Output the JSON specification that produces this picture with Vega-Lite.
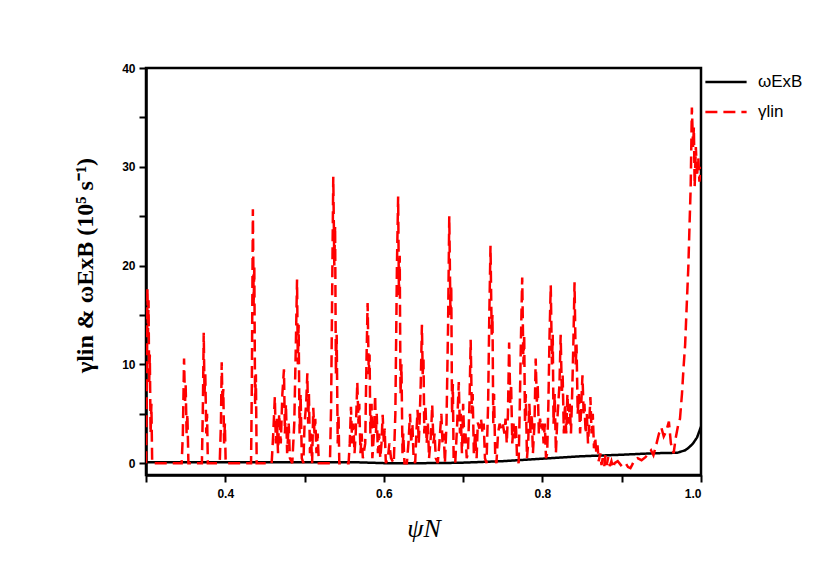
{
  "$schema": "https://vega.github.io/schema/vega-lite/v6.json",
  "width": 555,
  "height": 407,
  "autosize": {"type": "none"},
  "padding": {"left": 146, "top": 68, "right": 126, "bottom": 94},
  "background": "white",
  "config": {
    "view": {"stroke": "black", "strokeWidth": 2.5},
    "axis": {
      "domainColor": "black", "domainWidth": 2.5, "tickColor": "black", "tickWidth": 2,
      "tickSize": 7, "grid": false, "labelFont": "Liberation Sans", "labelFontWeight": "bold",
      "labelFontSize": 12, "labelColor": "black", "titleColor": "black"
    },
    "legend": {
      "orient": "none", "legendX": 558, "legendY": -8, "padding": 0, "title": null,
      "symbolType": "stroke", "symbolSize": 1700, "symbolStrokeWidth": 2.5,
      "labelFont": "Liberation Sans", "labelFontSize": 17, "labelColor": "black",
      "rowPadding": -16, "labelOffset": 10
    }
  },
  "datasets": {
    "exb": [
      {"psi": 0.30, "val": 0.1, "series": "ωExB"},
      {"psi": 0.40, "val": 0.1, "series": "ωExB"},
      {"psi": 0.50, "val": 0.1, "series": "ωExB"},
      {"psi": 0.56, "val": 0.1, "series": "ωExB"},
      {"psi": 0.60, "val": 0.0, "series": "ωExB"},
      {"psi": 0.65, "val": 0.0, "series": "ωExB"},
      {"psi": 0.68, "val": 0.02, "series": "ωExB"},
      {"psi": 0.70, "val": 0.05, "series": "ωExB"},
      {"psi": 0.75, "val": 0.2, "series": "ωExB"},
      {"psi": 0.80, "val": 0.45, "series": "ωExB"},
      {"psi": 0.85, "val": 0.7, "series": "ωExB"},
      {"psi": 0.90, "val": 0.85, "series": "ωExB"},
      {"psi": 0.94, "val": 1.0, "series": "ωExB"},
      {"psi": 0.97, "val": 1.05, "series": "ωExB"},
      {"psi": 0.98, "val": 1.3, "series": "ωExB"},
      {"psi": 0.985, "val": 1.6, "series": "ωExB"},
      {"psi": 0.99, "val": 2.0, "series": "ωExB"},
      {"psi": 0.995, "val": 2.6, "series": "ωExB"},
      {"psi": 1.00, "val": 3.7, "series": "ωExB"}
    ],
    "lin": [
      {"psi": 0.300, "val": 0, "series": "γlin"},
      {"psi": 0.3012, "val": 9, "series": "γlin"},
      {"psi": 0.3018, "val": 17.7, "series": "γlin"},
      {"psi": 0.3025, "val": 13, "series": "γlin"},
      {"psi": 0.3032, "val": 16.5, "series": "γlin"},
      {"psi": 0.3040, "val": 8, "series": "γlin"},
      {"psi": 0.3048, "val": 11, "series": "γlin"},
      {"psi": 0.3058, "val": 3, "series": "γlin"},
      {"psi": 0.3068, "val": 6, "series": "γlin"},
      {"psi": 0.3078, "val": 0, "series": "γlin"},
      {"psi": 0.345, "val": 0, "series": "γlin"},
      {"psi": 0.3465, "val": 3, "series": "γlin"},
      {"psi": 0.348, "val": 10.6, "series": "γlin"},
      {"psi": 0.3492, "val": 6, "series": "γlin"},
      {"psi": 0.350, "val": 8, "series": "γlin"},
      {"psi": 0.3512, "val": 3, "series": "γlin"},
      {"psi": 0.3522, "val": 5, "series": "γlin"},
      {"psi": 0.3535, "val": 0, "series": "γlin"},
      {"psi": 0.3705, "val": 0, "series": "γlin"},
      {"psi": 0.3718, "val": 6, "series": "γlin"},
      {"psi": 0.3728, "val": 13.2, "series": "γlin"},
      {"psi": 0.3738, "val": 7, "series": "γlin"},
      {"psi": 0.3748, "val": 9, "series": "γlin"},
      {"psi": 0.376, "val": 3, "series": "γlin"},
      {"psi": 0.377, "val": 5, "series": "γlin"},
      {"psi": 0.378, "val": 0, "series": "γlin"},
      {"psi": 0.393, "val": 0, "series": "γlin"},
      {"psi": 0.3945, "val": 4, "series": "γlin"},
      {"psi": 0.3955, "val": 10.2, "series": "γlin"},
      {"psi": 0.3965, "val": 6, "series": "γlin"},
      {"psi": 0.3975, "val": 7.5, "series": "γlin"},
      {"psi": 0.3985, "val": 2, "series": "γlin"},
      {"psi": 0.3995, "val": 4, "series": "γlin"},
      {"psi": 0.4005, "val": 0, "series": "γlin"},
      {"psi": 0.4325, "val": 0, "series": "γlin"},
      {"psi": 0.4335, "val": 8, "series": "γlin"},
      {"psi": 0.4348, "val": 25.7, "series": "γlin"},
      {"psi": 0.4358, "val": 16, "series": "γlin"},
      {"psi": 0.4366, "val": 20, "series": "γlin"},
      {"psi": 0.4376, "val": 6, "series": "γlin"},
      {"psi": 0.4386, "val": 9, "series": "γlin"},
      {"psi": 0.4396, "val": 0, "series": "γlin"},
      {"psi": 0.4585, "val": 0, "series": "γlin"},
      {"psi": 0.4605, "val": 3, "series": "γlin"},
      {"psi": 0.4625, "val": 6.7, "series": "γlin"},
      {"psi": 0.4638, "val": 2, "series": "γlin"},
      {"psi": 0.4650, "val": 4.5, "series": "γlin"},
      {"psi": 0.4665, "val": 1, "series": "γlin"},
      {"psi": 0.4680, "val": 5, "series": "γlin"},
      {"psi": 0.4700, "val": 2, "series": "γlin"},
      {"psi": 0.4720, "val": 7, "series": "γlin"},
      {"psi": 0.4740, "val": 9.5, "series": "γlin"},
      {"psi": 0.4752, "val": 3, "series": "γlin"},
      {"psi": 0.4765, "val": 6, "series": "γlin"},
      {"psi": 0.4780, "val": 1, "series": "γlin"},
      {"psi": 0.4800, "val": 4, "series": "γlin"},
      {"psi": 0.4815, "val": 0.5, "series": "γlin"},
      {"psi": 0.4845, "val": 0, "series": "γlin"},
      {"psi": 0.4870, "val": 4, "series": "γlin"},
      {"psi": 0.4890, "val": 12, "series": "γlin"},
      {"psi": 0.4905, "val": 18.6, "series": "γlin"},
      {"psi": 0.4915, "val": 10, "series": "γlin"},
      {"psi": 0.4925, "val": 14, "series": "γlin"},
      {"psi": 0.4937, "val": 3, "series": "γlin"},
      {"psi": 0.4950, "val": 7, "series": "γlin"},
      {"psi": 0.4965, "val": 0.5, "series": "γlin"},
      {"psi": 0.4985, "val": 0, "series": "γlin"},
      {"psi": 0.5000, "val": 4, "series": "γlin"},
      {"psi": 0.5020, "val": 6, "series": "γlin"},
      {"psi": 0.5035, "val": 9.1, "series": "γlin"},
      {"psi": 0.5045, "val": 4, "series": "γlin"},
      {"psi": 0.5055, "val": 7, "series": "γlin"},
      {"psi": 0.5068, "val": 1, "series": "γlin"},
      {"psi": 0.5080, "val": 3, "series": "γlin"},
      {"psi": 0.5095, "val": 0, "series": "γlin"},
      {"psi": 0.5110, "val": 5.6, "series": "γlin"},
      {"psi": 0.5125, "val": 3, "series": "γlin"},
      {"psi": 0.5135, "val": 4.5, "series": "γlin"},
      {"psi": 0.5150, "val": 1, "series": "γlin"},
      {"psi": 0.5165, "val": 3, "series": "γlin"},
      {"psi": 0.5180, "val": 0, "series": "γlin"},
      {"psi": 0.5320, "val": 0, "series": "γlin"},
      {"psi": 0.5335, "val": 6, "series": "γlin"},
      {"psi": 0.5350, "val": 19, "series": "γlin"},
      {"psi": 0.5362, "val": 29, "series": "γlin"},
      {"psi": 0.5375, "val": 20, "series": "γlin"},
      {"psi": 0.5385, "val": 24, "series": "γlin"},
      {"psi": 0.5395, "val": 9, "series": "γlin"},
      {"psi": 0.5405, "val": 13, "series": "γlin"},
      {"psi": 0.5418, "val": 2, "series": "γlin"},
      {"psi": 0.5428, "val": 5, "series": "γlin"},
      {"psi": 0.5438, "val": 0, "series": "γlin"},
      {"psi": 0.5555, "val": 0, "series": "γlin"},
      {"psi": 0.5570, "val": 2, "series": "γlin"},
      {"psi": 0.5585, "val": 5.7, "series": "γlin"},
      {"psi": 0.5600, "val": 2, "series": "γlin"},
      {"psi": 0.5615, "val": 4, "series": "γlin"},
      {"psi": 0.5630, "val": 1, "series": "γlin"},
      {"psi": 0.5645, "val": 3, "series": "γlin"},
      {"psi": 0.5665, "val": 8.2, "series": "γlin"},
      {"psi": 0.5680, "val": 4, "series": "γlin"},
      {"psi": 0.5690, "val": 6, "series": "γlin"},
      {"psi": 0.5705, "val": 1, "series": "γlin"},
      {"psi": 0.5720, "val": 3, "series": "γlin"},
      {"psi": 0.5735, "val": 0.5, "series": "γlin"},
      {"psi": 0.5765, "val": 2, "series": "γlin"},
      {"psi": 0.5780, "val": 10, "series": "γlin"},
      {"psi": 0.5795, "val": 16.2, "series": "γlin"},
      {"psi": 0.5810, "val": 9, "series": "γlin"},
      {"psi": 0.5820, "val": 11, "series": "γlin"},
      {"psi": 0.5830, "val": 3, "series": "γlin"},
      {"psi": 0.5845, "val": 6, "series": "γlin"},
      {"psi": 0.5855, "val": 0.5, "series": "γlin"},
      {"psi": 0.5875, "val": 3, "series": "γlin"},
      {"psi": 0.5890, "val": 6.9, "series": "γlin"},
      {"psi": 0.5900, "val": 3, "series": "γlin"},
      {"psi": 0.5910, "val": 5, "series": "γlin"},
      {"psi": 0.5925, "val": 1, "series": "γlin"},
      {"psi": 0.5940, "val": 3, "series": "γlin"},
      {"psi": 0.5955, "val": 0.5, "series": "γlin"},
      {"psi": 0.5970, "val": 2, "series": "γlin"},
      {"psi": 0.5985, "val": 4.9, "series": "γlin"},
      {"psi": 0.6000, "val": 2, "series": "γlin"},
      {"psi": 0.6010, "val": 3.5, "series": "γlin"},
      {"psi": 0.6025, "val": 0, "series": "γlin"},
      {"psi": 0.6050, "val": 0.5, "series": "γlin"},
      {"psi": 0.6070, "val": 2, "series": "γlin"},
      {"psi": 0.6090, "val": 0.5, "series": "γlin"},
      {"psi": 0.6125, "val": 0, "series": "γlin"},
      {"psi": 0.6145, "val": 5, "series": "γlin"},
      {"psi": 0.6165, "val": 20, "series": "γlin"},
      {"psi": 0.6180, "val": 27, "series": "γlin"},
      {"psi": 0.6190, "val": 17, "series": "γlin"},
      {"psi": 0.6200, "val": 21, "series": "γlin"},
      {"psi": 0.6210, "val": 7, "series": "γlin"},
      {"psi": 0.6222, "val": 10, "series": "γlin"},
      {"psi": 0.6235, "val": 1, "series": "γlin"},
      {"psi": 0.6245, "val": 3, "series": "γlin"},
      {"psi": 0.6260, "val": 0, "series": "γlin"},
      {"psi": 0.6290, "val": 0, "series": "γlin"},
      {"psi": 0.6310, "val": 2, "series": "γlin"},
      {"psi": 0.6330, "val": 5, "series": "γlin"},
      {"psi": 0.6345, "val": 2, "series": "γlin"},
      {"psi": 0.6360, "val": 4, "series": "γlin"},
      {"psi": 0.6375, "val": 0.5, "series": "γlin"},
      {"psi": 0.6395, "val": 0, "series": "γlin"},
      {"psi": 0.6410, "val": 3, "series": "γlin"},
      {"psi": 0.6425, "val": 5.4, "series": "γlin"},
      {"psi": 0.6440, "val": 2, "series": "γlin"},
      {"psi": 0.6450, "val": 4, "series": "γlin"},
      {"psi": 0.6465, "val": 8, "series": "γlin"},
      {"psi": 0.6480, "val": 14, "series": "γlin"},
      {"psi": 0.6490, "val": 9, "series": "γlin"},
      {"psi": 0.6500, "val": 10.5, "series": "γlin"},
      {"psi": 0.6510, "val": 3, "series": "γlin"},
      {"psi": 0.6525, "val": 5.9, "series": "γlin"},
      {"psi": 0.6540, "val": 2, "series": "γlin"},
      {"psi": 0.6555, "val": 4, "series": "γlin"},
      {"psi": 0.6570, "val": 0.5, "series": "γlin"},
      {"psi": 0.6595, "val": 3, "series": "γlin"},
      {"psi": 0.6610, "val": 5.9, "series": "γlin"},
      {"psi": 0.6625, "val": 2, "series": "γlin"},
      {"psi": 0.6640, "val": 3, "series": "γlin"},
      {"psi": 0.6655, "val": 0.5, "series": "γlin"},
      {"psi": 0.6680, "val": 0, "series": "γlin"},
      {"psi": 0.6700, "val": 2, "series": "γlin"},
      {"psi": 0.6725, "val": 5, "series": "γlin"},
      {"psi": 0.6740, "val": 2, "series": "γlin"},
      {"psi": 0.6755, "val": 3, "series": "γlin"},
      {"psi": 0.6770, "val": 0, "series": "γlin"},
      {"psi": 0.6790, "val": 4, "series": "γlin"},
      {"psi": 0.6810, "val": 14, "series": "γlin"},
      {"psi": 0.6825, "val": 25, "series": "γlin"},
      {"psi": 0.6840, "val": 15, "series": "γlin"},
      {"psi": 0.6850, "val": 18, "series": "γlin"},
      {"psi": 0.6860, "val": 5, "series": "γlin"},
      {"psi": 0.6870, "val": 8, "series": "γlin"},
      {"psi": 0.6880, "val": 0.5, "series": "γlin"},
      {"psi": 0.6900, "val": 0, "series": "γlin"},
      {"psi": 0.6925, "val": 4, "series": "γlin"},
      {"psi": 0.6945, "val": 8.2, "series": "γlin"},
      {"psi": 0.6960, "val": 3, "series": "γlin"},
      {"psi": 0.6970, "val": 5, "series": "γlin"},
      {"psi": 0.6985, "val": 1, "series": "γlin"},
      {"psi": 0.7000, "val": 6, "series": "γlin"},
      {"psi": 0.7015, "val": 2, "series": "γlin"},
      {"psi": 0.7030, "val": 3, "series": "γlin"},
      {"psi": 0.7045, "val": 0.5, "series": "γlin"},
      {"psi": 0.7060, "val": 1, "series": "γlin"},
      {"psi": 0.7080, "val": 6, "series": "γlin"},
      {"psi": 0.7095, "val": 12.5, "series": "γlin"},
      {"psi": 0.7110, "val": 5, "series": "γlin"},
      {"psi": 0.7120, "val": 7, "series": "γlin"},
      {"psi": 0.7135, "val": 1, "series": "γlin"},
      {"psi": 0.7150, "val": 3, "series": "γlin"},
      {"psi": 0.7170, "val": 0.5, "series": "γlin"},
      {"psi": 0.7185, "val": 4.1, "series": "γlin"},
      {"psi": 0.7205, "val": 3.5, "series": "γlin"},
      {"psi": 0.7225, "val": 4.5, "series": "γlin"},
      {"psi": 0.7245, "val": 3, "series": "γlin"},
      {"psi": 0.7260, "val": 4, "series": "γlin"},
      {"psi": 0.7275, "val": 0.5, "series": "γlin"},
      {"psi": 0.7295, "val": 0, "series": "γlin"},
      {"psi": 0.7315, "val": 6, "series": "γlin"},
      {"psi": 0.7330, "val": 15, "series": "γlin"},
      {"psi": 0.7345, "val": 22, "series": "γlin"},
      {"psi": 0.7360, "val": 13, "series": "γlin"},
      {"psi": 0.7370, "val": 15, "series": "γlin"},
      {"psi": 0.7380, "val": 4, "series": "γlin"},
      {"psi": 0.7390, "val": 7, "series": "γlin"},
      {"psi": 0.7405, "val": 0.5, "series": "γlin"},
      {"psi": 0.7420, "val": 0, "series": "γlin"},
      {"psi": 0.7440, "val": 3, "series": "γlin"},
      {"psi": 0.7460, "val": 4, "series": "γlin"},
      {"psi": 0.7480, "val": 3.5, "series": "γlin"},
      {"psi": 0.7500, "val": 4, "series": "γlin"},
      {"psi": 0.7520, "val": 3, "series": "γlin"},
      {"psi": 0.7535, "val": 4.5, "series": "γlin"},
      {"psi": 0.7550, "val": 2, "series": "γlin"},
      {"psi": 0.7565, "val": 5, "series": "γlin"},
      {"psi": 0.7580, "val": 12.2, "series": "γlin"},
      {"psi": 0.7595, "val": 6, "series": "γlin"},
      {"psi": 0.7605, "val": 8, "series": "γlin"},
      {"psi": 0.7620, "val": 2, "series": "γlin"},
      {"psi": 0.7635, "val": 4, "series": "γlin"},
      {"psi": 0.7650, "val": 2.5, "series": "γlin"},
      {"psi": 0.7665, "val": 4, "series": "γlin"},
      {"psi": 0.7680, "val": 0.5, "series": "γlin"},
      {"psi": 0.7700, "val": 0, "series": "γlin"},
      {"psi": 0.7715, "val": 6, "series": "γlin"},
      {"psi": 0.7730, "val": 13, "series": "γlin"},
      {"psi": 0.7745, "val": 18.8, "series": "γlin"},
      {"psi": 0.7760, "val": 10, "series": "γlin"},
      {"psi": 0.7770, "val": 13, "series": "γlin"},
      {"psi": 0.7780, "val": 4, "series": "γlin"},
      {"psi": 0.7790, "val": 7, "series": "γlin"},
      {"psi": 0.7805, "val": 0.5, "series": "γlin"},
      {"psi": 0.7820, "val": 2, "series": "γlin"},
      {"psi": 0.7835, "val": 6, "series": "γlin"},
      {"psi": 0.7850, "val": 3, "series": "γlin"},
      {"psi": 0.7865, "val": 5, "series": "γlin"},
      {"psi": 0.7880, "val": 1, "series": "γlin"},
      {"psi": 0.7900, "val": 4, "series": "γlin"},
      {"psi": 0.7915, "val": 10.6, "series": "γlin"},
      {"psi": 0.7930, "val": 6, "series": "γlin"},
      {"psi": 0.7940, "val": 8, "series": "γlin"},
      {"psi": 0.7955, "val": 3, "series": "γlin"},
      {"psi": 0.7970, "val": 4.5, "series": "γlin"},
      {"psi": 0.7985, "val": 3.5, "series": "γlin"},
      {"psi": 0.8000, "val": 4, "series": "γlin"},
      {"psi": 0.8015, "val": 2, "series": "γlin"},
      {"psi": 0.8030, "val": 4, "series": "γlin"},
      {"psi": 0.8045, "val": 0.5, "series": "γlin"},
      {"psi": 0.8060, "val": 1, "series": "γlin"},
      {"psi": 0.8075, "val": 6, "series": "γlin"},
      {"psi": 0.8090, "val": 13, "series": "γlin"},
      {"psi": 0.8105, "val": 18, "series": "γlin"},
      {"psi": 0.8120, "val": 10, "series": "γlin"},
      {"psi": 0.8130, "val": 13, "series": "γlin"},
      {"psi": 0.8140, "val": 4, "series": "γlin"},
      {"psi": 0.8155, "val": 7, "series": "γlin"},
      {"psi": 0.8170, "val": 1, "series": "γlin"},
      {"psi": 0.8185, "val": 4, "series": "γlin"},
      {"psi": 0.8200, "val": 6, "series": "γlin"},
      {"psi": 0.8215, "val": 8, "series": "γlin"},
      {"psi": 0.8230, "val": 13, "series": "γlin"},
      {"psi": 0.8245, "val": 7, "series": "γlin"},
      {"psi": 0.8255, "val": 9, "series": "γlin"},
      {"psi": 0.8270, "val": 3, "series": "γlin"},
      {"psi": 0.8285, "val": 6, "series": "γlin"},
      {"psi": 0.8300, "val": 3, "series": "γlin"},
      {"psi": 0.8315, "val": 7, "series": "γlin"},
      {"psi": 0.8330, "val": 4, "series": "γlin"},
      {"psi": 0.8345, "val": 6, "series": "γlin"},
      {"psi": 0.8360, "val": 3, "series": "γlin"},
      {"psi": 0.8375, "val": 7, "series": "γlin"},
      {"psi": 0.8390, "val": 12, "series": "γlin"},
      {"psi": 0.8405, "val": 18.3, "series": "γlin"},
      {"psi": 0.8420, "val": 10, "series": "γlin"},
      {"psi": 0.8430, "val": 12, "series": "γlin"},
      {"psi": 0.8445, "val": 5, "series": "γlin"},
      {"psi": 0.8460, "val": 7, "series": "γlin"},
      {"psi": 0.8475, "val": 3, "series": "γlin"},
      {"psi": 0.8490, "val": 6, "series": "γlin"},
      {"psi": 0.8505, "val": 8.9, "series": "γlin"},
      {"psi": 0.8520, "val": 5, "series": "γlin"},
      {"psi": 0.8530, "val": 6, "series": "γlin"},
      {"psi": 0.8545, "val": 3, "series": "γlin"},
      {"psi": 0.8560, "val": 5, "series": "γlin"},
      {"psi": 0.8575, "val": 2, "series": "γlin"},
      {"psi": 0.8590, "val": 4, "series": "γlin"},
      {"psi": 0.8605, "val": 6.7, "series": "γlin"},
      {"psi": 0.8620, "val": 3, "series": "γlin"},
      {"psi": 0.8635, "val": 5, "series": "γlin"},
      {"psi": 0.8650, "val": 1.5, "series": "γlin"},
      {"psi": 0.8665, "val": 2.6, "series": "γlin"},
      {"psi": 0.8680, "val": 1, "series": "γlin"},
      {"psi": 0.8695, "val": 1.8, "series": "γlin"},
      {"psi": 0.8710, "val": 0.2, "series": "γlin"},
      {"psi": 0.8730, "val": 1, "series": "γlin"},
      {"psi": 0.8745, "val": -0.2, "series": "γlin"},
      {"psi": 0.8760, "val": 0.5, "series": "γlin"},
      {"psi": 0.8780, "val": -0.3, "series": "γlin"},
      {"psi": 0.8795, "val": 0.8, "series": "γlin"},
      {"psi": 0.8810, "val": -0.2, "series": "γlin"},
      {"psi": 0.8830, "val": 0.6, "series": "γlin"},
      {"psi": 0.8850, "val": -0.3, "series": "γlin"},
      {"psi": 0.8870, "val": 0.2, "series": "γlin"},
      {"psi": 0.8890, "val": -0.5, "series": "γlin"},
      {"psi": 0.8910, "val": 0, "series": "γlin"},
      {"psi": 0.8950, "val": 0.2, "series": "γlin"},
      {"psi": 0.9000, "val": -0.3, "series": "γlin"},
      {"psi": 0.9050, "val": 0, "series": "γlin"},
      {"psi": 0.9080, "val": -0.4, "series": "γlin"},
      {"psi": 0.9110, "val": -0.5, "series": "γlin"},
      {"psi": 0.9130, "val": -0.2, "series": "γlin"},
      {"psi": 0.9160, "val": 0.3, "series": "γlin"},
      {"psi": 0.9200, "val": 0.5, "series": "γlin"},
      {"psi": 0.9250, "val": 0.3, "series": "γlin"},
      {"psi": 0.9300, "val": 0.6, "series": "γlin"},
      {"psi": 0.9340, "val": 1.0, "series": "γlin"},
      {"psi": 0.9370, "val": 1.3, "series": "γlin"},
      {"psi": 0.9400, "val": 0.8, "series": "γlin"},
      {"psi": 0.9440, "val": 2.0, "series": "γlin"},
      {"psi": 0.9470, "val": 3.0, "series": "γlin"},
      {"psi": 0.9500, "val": 3.6, "series": "γlin"},
      {"psi": 0.9530, "val": 2.7, "series": "γlin"},
      {"psi": 0.9560, "val": 3.2, "series": "γlin"},
      {"psi": 0.9595, "val": 4.2, "series": "γlin"},
      {"psi": 0.9620, "val": 2.0, "series": "γlin"},
      {"psi": 0.9655, "val": 1.0, "series": "γlin"},
      {"psi": 0.9680, "val": 2.5, "series": "γlin"},
      {"psi": 0.9715, "val": 4.0, "series": "γlin"},
      {"psi": 0.9735, "val": 4.5, "series": "γlin"},
      {"psi": 0.9760, "val": 7, "series": "γlin"},
      {"psi": 0.9780, "val": 9.7, "series": "γlin"},
      {"psi": 0.9800, "val": 12, "series": "γlin"},
      {"psi": 0.9820, "val": 16, "series": "γlin"},
      {"psi": 0.9840, "val": 19.8, "series": "γlin"},
      {"psi": 0.9855, "val": 24, "series": "γlin"},
      {"psi": 0.9870, "val": 28, "series": "γlin"},
      {"psi": 0.9885, "val": 36, "series": "γlin"},
      {"psi": 0.9900, "val": 32, "series": "γlin"},
      {"psi": 0.9910, "val": 34, "series": "γlin"},
      {"psi": 0.9920, "val": 28, "series": "γlin"},
      {"psi": 0.9935, "val": 32, "series": "γlin"},
      {"psi": 0.9950, "val": 29, "series": "γlin"},
      {"psi": 0.9965, "val": 31, "series": "γlin"},
      {"psi": 0.9980, "val": 28.5, "series": "γlin"},
      {"psi": 1.0000, "val": 30, "series": "γlin"}
    ]
  },
  "encoding": {
    "x": {
      "field": "psi", "type": "quantitative",
      "scale": {"domain": [0.3, 1.0], "nice": false, "zero": false},
      "axis": {
        "values": [0.3, 0.4, 0.5, 0.6, 0.7, 0.8, 0.9, 1.0],
        "labelExpr": "round(datum.value * 10) % 2 == 0 ? format(datum.value, '.1f') : ''",
        "labelPadding": 6,
        "title": "ψN", "titleFont": "Liberation Serif", "titleFontStyle": "italic",
        "titleFontWeight": "normal", "titleFontSize": 26, "titlePadding": 16
      }
    },
    "y": {
      "field": "val", "type": "quantitative",
      "scale": {"domain": [-1.2, 40], "nice": false, "zero": false},
      "axis": {
        "values": [0, 5, 10, 15, 20, 25, 30, 35, 40],
        "labelExpr": "datum.value % 10 == 0 ? datum.label : ''",
        "labelPadding": 4,
        "title": "γlin & ωExB (10⁵ s⁻¹)", "titleFont": "Liberation Serif",
        "titleFontWeight": "bold", "titleFontSize": 24, "titlePadding": 24,
        "titleY": 197, "titleAlign": "center"
      }
    },
    "color": {
      "field": "series", "type": "nominal",
      "scale": {"domain": ["ωExB", "γlin"], "range": ["#000000", "#ff0000"]},
      "legend": {}
    },
    "strokeDash": {
      "field": "series", "type": "nominal",
      "scale": {"domain": ["ωExB", "γlin"], "range": [[1, 0], [12, 6]]},
      "legend": {}
    }
  },
  "layer": [
    {"data": {"name": "exb"}, "mark": {"type": "line", "strokeWidth": 2.5, "clip": true}},
    {"data": {"name": "lin"}, "mark": {"type": "line", "strokeWidth": 2.5, "clip": true}}
  ]
}
